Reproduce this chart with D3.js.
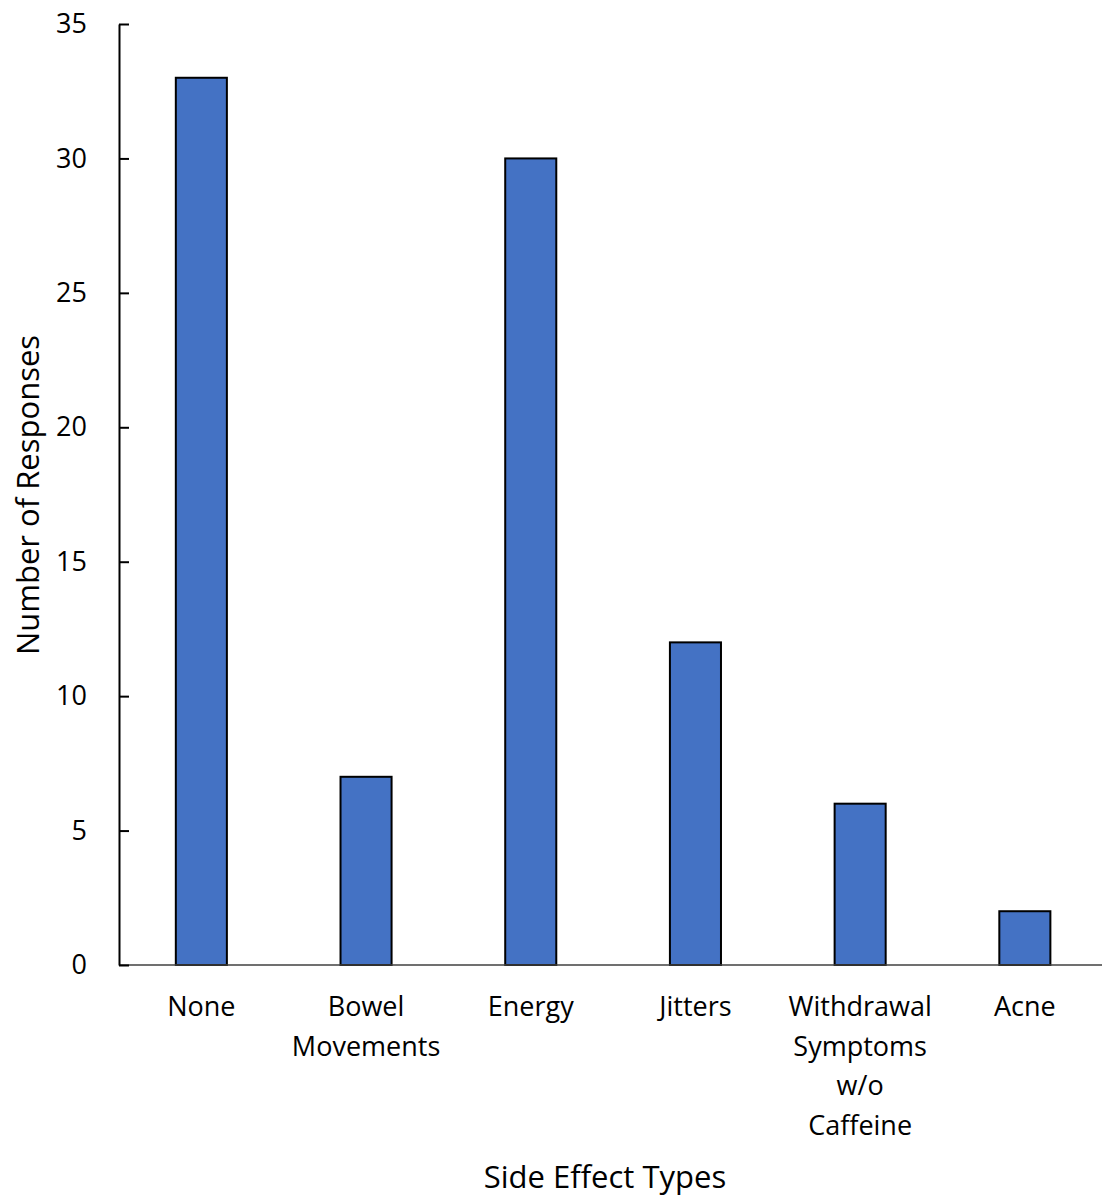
<!DOCTYPE html>
<html>
<head>
<meta charset="utf-8">
<script src="https://cdn.jsdelivr.net/npm/d3@7"></script>
<style>
  html, body { margin: 0; padding: 0; background: #fff; }
  svg { display: block; }
  text { font-family: "Open Sans", sans-serif; fill: #000; }
</style>
</head>
<body>
<div id="chart"></div>
<script>
// Side effect categories (multi-line labels) and response counts
const categories = ["None", "Bowel Movements", "Energy", "Jitters", "Withdrawal Symptoms w/o Caffeine", "Acne"];
const categoryLines = [["None"], ["Bowel", "Movements"], ["Energy"], ["Jitters"], ["Withdrawal", "Symptoms", "w/o", "Caffeine"], ["Acne"]];
const responses = [33, 7, 30, 12, 6, 2];
const yTicks = [0, 5, 10, 15, 20, 25, 30, 35];

const width = 1102, height = 1197;
const margin = { left: 119, top: 24, bottom: 232 };
const plotBottom = height - margin.bottom; // 965

const svg = d3.select("#chart").append("svg")
  .attr("width", width).attr("height", height);

const x = d3.scaleBand()
  .domain(categories)
  .range([margin.left, margin.left + 6 * 164.7])
  .paddingInner(0.69)
  .paddingOuter(0.345);

const y = d3.scaleLinear().domain([0, 35]).range([plotBottom, margin.top]);

// Bars
svg.append("g").selectAll("rect")
  .data(responses)
  .join("rect")
  .attr("x", (d, i) => x(categories[i]))
  .attr("y", d => y(d))
  .attr("width", x.bandwidth())
  .attr("height", d => y(0) - y(d))
  .attr("fill", "#4472C4")
  .attr("stroke", "#000")
  .attr("stroke-width", 2);

// X axis baseline
svg.append("line")
  .attr("x1", margin.left).attr("x2", width)
  .attr("y1", y(0)).attr("y2", y(0))
  .attr("stroke", "#404040").attr("stroke-width", 1.5);

// Y axis with inward ticks
const yAxis = d3.axisLeft(y).tickValues(yTicks).tickSizeInner(-10).tickSizeOuter(0).tickPadding(32);
const gy = svg.append("g").attr("transform", `translate(${margin.left},0)`).call(yAxis);
gy.select(".domain").attr("stroke", "#000").attr("stroke-width", 2);
gy.selectAll(".tick line").attr("stroke", "#000").attr("stroke-width", 2);
gy.selectAll(".tick text")
  .style("font-family", "'Open Sans', sans-serif")
  .attr("font-size", 27)
  .attr("fill", "#000");

// Category labels
const lab = svg.append("g").selectAll("text")
  .data(categoryLines)
  .join("text")
  .attr("text-anchor", "middle")
  .attr("font-size", 27)
  .attr("transform", (d, i) => `translate(${x(categories[i]) + x.bandwidth() / 2},1016)`);
lab.selectAll("tspan")
  .data(d => d)
  .join("tspan")
  .attr("x", 0)
  .attr("dy", (d, j) => j === 0 ? 0 : 39.5)
  .text(d => d);

// Axis titles
svg.append("text")
  .attr("x", 605).attr("y", 1188)
  .attr("text-anchor", "middle")
  .attr("font-size", 31)
  .text("Side Effect Types");

svg.append("text")
  .attr("transform", "translate(39,495) rotate(-90)")
  .attr("text-anchor", "middle")
  .attr("font-size", 31)
  .text("Number of Responses");
</script>
</body>
</html>
